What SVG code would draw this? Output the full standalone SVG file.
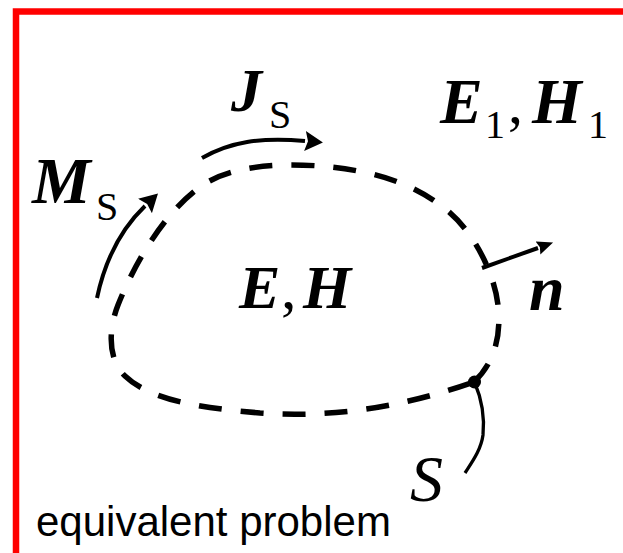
<svg xmlns="http://www.w3.org/2000/svg" width="623" height="553" viewBox="0 0 623 553">
<style>
.ser{font-family:"Liberation Serif","Times New Roman",serif;fill:#000}
.bi{font-weight:bold;font-style:italic}
.it{font-style:italic}
.sans{font-family:"Liberation Sans",Arial,sans-serif;fill:#000}
.arr{fill:none;stroke:#000;stroke-width:4}
</style>
<defs>
<marker id="ah" viewBox="0 0 18 20" refX="0" refY="10" markerWidth="18" markerHeight="20" markerUnits="userSpaceOnUse" orient="auto">
<path d="M0,0 L18,10 L0,20 L3,10 Z" fill="#000"/>
</marker>
<marker id="ahs" viewBox="0 0 16 14" refX="0" refY="7" markerWidth="16" markerHeight="14" markerUnits="userSpaceOnUse" orient="auto">
<path d="M0,0 L16,7 L0,14 L2,7 Z" fill="#000"/>
</marker>
</defs>
<rect width="623" height="553" fill="#fff"/>
<path d="M16,553 V11.5 H623" fill="none" stroke="#f00" stroke-width="6.5"/>
<g id="surface">
<path d="M474,382 C492,365 502,340 498,305 C494,270 470,225 440,205 C410,182 370,170 320,166 C280,163 230,165 200,187 C165,212 135,262 118,305 C108,330 108,360 125,376 C150,400 200,408 260,413 C330,418 400,408 474,382 Z" fill="none" stroke="#000" stroke-width="5.5" stroke-dasharray="23 19"/>
<circle cx="474.5" cy="382" r="6.5"/>
</g>
<g id="connectors">
<path class="arr" d="M97,298 C105,260 120,230 145,206" marker-end="url(#ah)"/>
<path class="arr" d="M202,158 C230,142 260,137 305,141" marker-end="url(#ah)"/>
<path class="arr" d="M482,268 L538,248" marker-end="url(#ahs)"/>
<path d="M474.5,382 C480,395 485,415 483,435 C481,450 472,462 465,473" fill="none" stroke="#000" stroke-width="3.3"/>
</g>
<g id="label-Ms">
<text class="ser" y="203"><tspan class="bi" x="32" font-size="66">M</tspan><tspan x="96" y="220" font-size="40">S</tspan></text>
</g>
<g id="label-Js">
<text class="ser" y="111"><tspan class="bi" x="231" font-size="62">J</tspan><tspan x="269" y="128" font-size="40">S</tspan></text>
</g>
<g id="label-E1H1">
<text class="ser" y="123"><tspan class="bi" x="440" font-size="64">E</tspan><tspan x="485" y="138" font-size="40">1</tspan><tspan x="508" y="123" font-size="60">,</tspan><tspan class="bi" x="532" font-size="64">H</tspan><tspan x="588" y="138" font-size="40">1</tspan></text>
</g>
<g id="label-EH">
<text class="ser" y="308" font-size="62"><tspan class="bi" x="239">E</tspan><tspan x="281">,</tspan><tspan class="bi" x="303">H</tspan></text>
</g>
<g id="label-n">
<text class="ser bi" x="529" y="310" font-size="64">n</text>
</g>
<g id="label-S">
<text class="ser it" x="410" y="501" font-size="66">S</text>
</g>
<g id="caption">
<text class="sans" x="36" y="536" font-size="42">equivalent problem</text>
</g>
</svg>
